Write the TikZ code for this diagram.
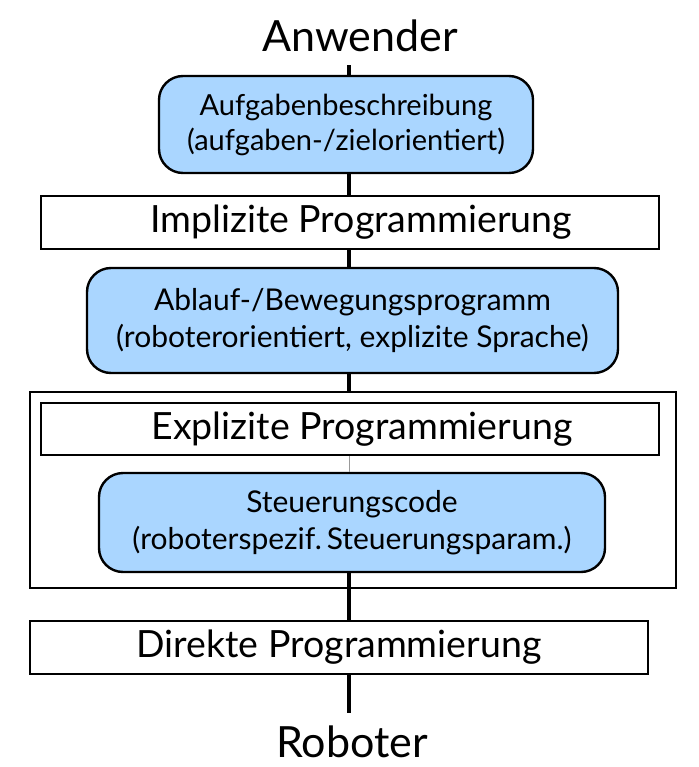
\documentclass[tikz,border=0pt]{standalone}
\usepackage{fontspec}
\setmainfont{Lato}
\usepackage{xcolor}
\definecolor{boxblue}{RGB}{170,214,255}

\begin{document}
\begin{tikzpicture}[x=1pt,y=-1pt,
    stufe/.style={draw, line width=2.4pt, fill=boxblue, rounded corners=24pt,
        align=center, inner sep=0pt, font=\fontsize{30}{37}\selectfont},
    ebene/.style={draw, line width=2.2pt, fill=white, minimum width=618pt,
        minimum height=53pt, inner sep=0pt, font=\fontsize{37.5}{44}\selectfont},
    ende/.style={inner sep=0pt, font=\fontsize{43}{50}\selectfont},
    link/.style={line width=3.2pt}]
\useasboundingbox (0,0) rectangle (698,767);

\coordinate (achse) at (349,0);

% Rahmen um explizite Programmierung
\node[draw, line width=2.4pt, minimum width=646pt, minimum height=196pt, inner sep=0pt] (rahmen) at (353,490) {};

% Endpunkte
\node[ende, anchor=base] (anw) at (360,52) {Anwender};
\node[ende, anchor=base] (rob) at (352,757) {Roboter};

% Beschreibungsstufen
\node[stufe, minimum width=374pt, minimum height=97pt,
    font=\fontsize{29}{35}\selectfont] (aufgabe) at (346,124.5)
    {Aufgabenbeschreibung\\(aufgaben-/zielorientiert)};
\node[stufe, minimum width=531pt, minimum height=105pt] (ablauf) at (352.5,320.5)
    {Ablauf-/Bewegungsprogramm\\(roboterorientiert, explizite Sprache)};
\node[stufe, minimum width=506pt, minimum height=99pt] (code) at (352,522.5)
    {Steuerungscode\\(roboterspezif.\,Steuerungsparam.)};

% Programmierebenen
\node[ebene] (impl) at (350,222.5) {\hspace*{22pt}Implizite Programmierung};
\node[ebene, minimum height=52pt] (expl) at (350,429) {\hspace*{24pt}Explizite Programmierung};
\node[ebene] (direkt) at (339,647.5) {Direkte Programmierung};

% Verbindungen
\draw[link] (anw.south -| achse) ++(0,13) -- (aufgabe.north -| achse);
\draw[link] (aufgabe.south -| achse) -- (impl.north -| achse);
\draw[link] (impl.south -| achse) -- (ablauf.north -| achse);
\draw[link] (ablauf.south -| achse) -- (rahmen.north -| achse);
\draw[line width=0.6pt, black!40] (expl.south -| achse) -- (code.north -| achse);
\draw[link] (code.south -| achse) -- (rahmen.south -| achse);
\draw[link] (rahmen.south -| achse) -- (direkt.north -| achse);
\draw[link] (direkt.south -| achse) -- ++(0,38);
\end{tikzpicture}
\end{document}
